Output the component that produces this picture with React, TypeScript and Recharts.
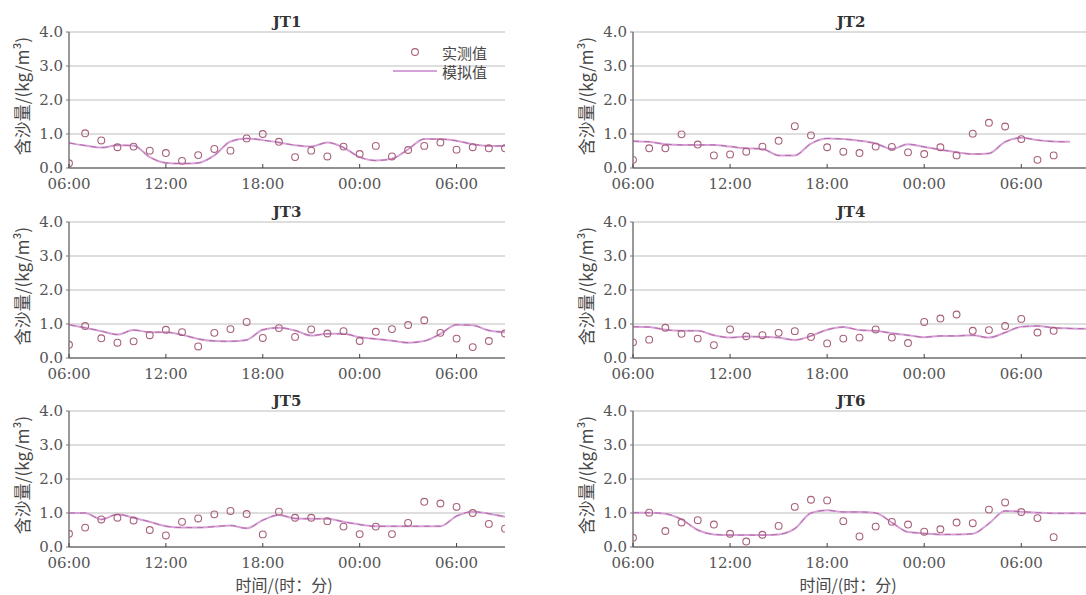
import React from 'react';
import { ComposedChart, Line, XAxis, YAxis, CartesianGrid, Legend } from 'recharts';

// Hour offsets from 06:00 on day one
const HOURS = [0, 1, 2, 3, 4, 5, 6, 7, 8, 9, 10, 11, 12, 13, 14, 15, 16, 17, 18, 19, 20, 21, 22, 23, 24, 25, 26, 27, 28];
const X_TICKS = [0, 6, 12, 18, 24];
const X_TICK_LABELS = ['06:00', '12:00', '18:00', '00:00', '06:00'];
const Y_TICKS = [0, 1, 2, 3, 4];

const STATIONS = ['JT1', 'JT2', 'JT3', 'JT4', 'JT5', 'JT6'];
const OBS_NAME = '实测值';
const SIM_NAME = '模拟值';
const Y_LABEL = '含沙量/(kg/m³)';
const X_LABEL = '时间/(时：分)';

const JT1_OBS = [0.14, 1.02, 0.81, 0.61, 0.63, 0.51, 0.44, 0.21, 0.38, 0.56, 0.51, 0.87, 1.0, 0.77, 0.32, 0.51, 0.34, 0.63, 0.41, 0.65, 0.34, 0.53, 0.65, 0.75, 0.54, 0.61, 0.58, 0.58];
const JT1_SIM = [0.74, 0.66, 0.6, 0.67, 0.66, 0.32, 0.15, 0.13, 0.15, 0.37, 0.78, 0.87, 0.82, 0.75, 0.67, 0.63, 0.75, 0.6, 0.32, 0.22, 0.27, 0.55, 0.85, 0.85, 0.8, 0.7, 0.65, 0.65];

const JT2_OBS = [0.24, 0.58, 0.58, 0.99, 0.69, 0.37, 0.4, 0.48, 0.63, 0.8, 1.23, 0.96, 0.61, 0.48, 0.44, 0.63, 0.62, 0.46, 0.41, 0.61, 0.37, 1.01, 1.33, 1.22, 0.85, 0.24, 0.37];
const JT2_SIM = [0.79, 0.77, 0.7, 0.68, 0.68, 0.68, 0.63, 0.58, 0.56, 0.37, 0.37, 0.72, 0.87, 0.85, 0.8, 0.72, 0.56, 0.7, 0.62, 0.54, 0.46, 0.41, 0.43, 0.77, 0.89, 0.82, 0.78, 0.77];

const JT3_OBS = [0.39, 0.94, 0.58, 0.45, 0.49, 0.67, 0.83, 0.76, 0.34, 0.74, 0.85, 1.06, 0.59, 0.88, 0.62, 0.84, 0.72, 0.79, 0.5, 0.77, 0.85, 0.97, 1.11, 0.74, 0.57, 0.32, 0.5, 0.72];
const JT3_SIM = [0.98, 0.89, 0.79, 0.69, 0.82, 0.76, 0.76, 0.68, 0.56, 0.5, 0.49, 0.53, 0.83, 0.89, 0.81, 0.66, 0.71, 0.71, 0.61, 0.56, 0.51, 0.45, 0.5, 0.71, 0.98, 0.96, 0.81, 0.76];

const JT4_OBS = [0.46, 0.54, 0.89, 0.71, 0.57, 0.38, 0.84, 0.64, 0.67, 0.74, 0.79, 0.62, 0.43, 0.57, 0.6, 0.84, 0.6, 0.44, 1.06, 1.16, 1.28, 0.8, 0.82, 0.94, 1.15, 0.75, 0.8];
const JT4_SIM = [0.92, 0.91, 0.83, 0.8, 0.8, 0.67, 0.6, 0.63, 0.62, 0.6, 0.53, 0.65, 0.83, 0.91, 0.82, 0.8, 0.73, 0.67, 0.61, 0.65, 0.65, 0.67, 0.6, 0.75, 0.92, 0.94, 0.89, 0.87, 0.86];

const JT5_OBS = [0.39, 0.57, 0.81, 0.86, 0.78, 0.5, 0.34, 0.74, 0.84, 0.96, 1.06, 0.97, 0.37, 1.04, 0.86, 0.86, 0.76, 0.6, 0.38, 0.6, 0.38, 0.71, 1.33, 1.28, 1.18, 1.0, 0.68, 0.54];
const JT5_SIM = [1.0, 1.0, 0.81, 0.96, 0.86, 0.74, 0.61, 0.57, 0.57, 0.6, 0.63, 0.55, 0.79, 0.94, 0.84, 0.83, 0.83, 0.74, 0.66, 0.61, 0.61, 0.61, 0.61, 0.61, 0.91, 1.04, 0.98, 0.89];

const JT6_OBS = [0.27, 1.01, 0.47, 0.72, 0.79, 0.66, 0.39, 0.16, 0.36, 0.62, 1.18, 1.39, 1.37, 0.76, 0.31, 0.6, 0.74, 0.66, 0.45, 0.52, 0.72, 0.7, 1.1, 1.31, 1.03, 0.85, 0.29];
const JT6_SIM = [1.01, 1.01, 0.98, 0.81, 0.5, 0.37, 0.35, 0.35, 0.35, 0.37, 0.54, 1.0, 1.08, 1.03, 1.03, 1.0, 0.72, 0.44, 0.4, 0.37, 0.37, 0.39, 0.69, 1.06, 1.04, 1.01, 0.99, 0.99, 0.99];

const OBS_SERIES = [JT1_OBS, JT2_OBS, JT3_OBS, JT4_OBS, JT5_OBS, JT6_OBS];
const SIM_SERIES = [JT1_SIM, JT2_SIM, JT3_SIM, JT4_SIM, JT5_SIM, JT6_SIM];

const OBS_COLOR = '#a8607a';
const SIM_COLOR = '#d6a2d6';
const SIM_DASH_COLOR = '#b46aa8';
const AXIS_COLOR = '#777';
const GRID_COLOR = '#bdbdbd';
const TEXT_COLOR = '#555';
const LABEL_COLOR = '#474747';
const SERIF = '"DejaVu Serif", "Liberation Serif", serif';
const CJK = '"Noto Sans CJK SC", sans-serif';

const CHART_W = 543;
const CHART_H = 204;
const PLOT_TOP = 20;
const X_AXIS_H = 48;
const ROW_PLOT_TOPS = [32, 222, 411];
const PX_PER_HOUR = 16.15;

function buildRows(obs: number[], sim: number[]) {
  const n = Math.max(obs.length, sim.length);
  return HOURS.slice(0, n).map((t, i) => ({
    t,
    obs: i < obs.length ? obs[i] : null,
    sim: i < sim.length ? sim[i] : null,
  }));
}

const ObsDot = (props: any) => {
  const { cx, cy, value, index } = props;
  if (value == null || cx == null || cy == null) return <g key={`o-${index}`} />;
  return <circle key={`o-${index}`} cx={cx} cy={cy} r={3.4} fill="none" stroke={OBS_COLOR} strokeWidth={1.1} />;
};

const XTick = (props: any) => {
  const { x, y, payload } = props;
  const idx = X_TICKS.indexOf(payload.value);
  return (
    <g>
      <line x1={x} x2={x} y1={y} y2={y - 4} stroke="#444" strokeWidth={1} />
      <text x={x} y={y + 21} textAnchor="middle" fontFamily={SERIF} fontSize={15} fill={TEXT_COLOR}>
        {idx >= 0 ? X_TICK_LABELS[idx] : ''}
      </text>
    </g>
  );
};

const LegendBox = () => (
  <svg width={130} height={45} style={{ display: 'block' }}>
    <circle cx={30} cy={12} r={3.4} fill="none" stroke={OBS_COLOR} strokeWidth={1.1} />
    <text x={57} y={12} dominantBaseline="central" fontFamily={CJK} fontSize={15} fill={LABEL_COLOR}>{OBS_NAME}</text>
    <line x1={8} x2={52} y1={31} y2={31} stroke={SIM_COLOR} strokeWidth={2} />
    <text x={57} y={31} dominantBaseline="central" fontFamily={CJK} fontSize={15} fill={LABEL_COLOR}>{SIM_NAME}</text>
  </svg>
);

function Panel({ index }: { index: number }) {
  const col = index % 2;
  const row = Math.floor(index / 2);
  const isRight = col === 1;
  const left = isRight ? 543 : 0;
  const top = ROW_PLOT_TOPS[row] - PLOT_TOP;
  const marginLeft = isRight ? 50 : 29;
  const marginRight = isRight ? 0 : 38;
  const xMax = isRight ? 28 : 27;
  const rows = buildRows(OBS_SERIES[index], SIM_SERIES[index]);
  const plotLeft = marginLeft + 40;
  const titleX = plotLeft + (27 * PX_PER_HOUR) / 2;
  const isBottom = row === 2;

  return (
    <div style={{ position: 'absolute', left, top, width: CHART_W, height: CHART_H }}>
      <div
        style={{
          position: 'absolute',
          left: titleX - 40,
          width: 80,
          top: 1,
          textAlign: 'center',
          fontFamily: SERIF,
          fontWeight: 'bold',
          fontSize: 15,
          color: '#333',
          lineHeight: '18px',
        }}
      >
        {STATIONS[index]}
      </div>
      <ComposedChart
        width={CHART_W}
        height={CHART_H}
        data={rows}
        margin={{ top: PLOT_TOP, right: marginRight, left: marginLeft, bottom: 0 }}
      >
        <CartesianGrid horizontal vertical={false} stroke={GRID_COLOR} strokeWidth={1.2} />
        <XAxis
          type="number"
          dataKey="t"
          domain={[0, xMax]}
          ticks={X_TICKS}
          interval={0}
          height={X_AXIS_H}
          tickSize={0}
          tickMargin={0}
          tickLine={false}
          tick={<XTick />}
          axisLine={{ stroke: AXIS_COLOR, strokeWidth: 1.5 }}
          allowDataOverflow
          label={
            isBottom
              ? (p: any) => {
                  const vb = p.viewBox || {};
                  return (
                    <text x={vb.x + (27 * PX_PER_HOUR) / 2 - 3} y={vb.y + 44} textAnchor="middle" fontFamily={CJK} fontSize={16} fill={LABEL_COLOR}>
                      {X_LABEL}
                    </text>
                  );
                }
              : undefined
          }
        />
        <YAxis
          type="number"
          domain={[0, 4]}
          ticks={Y_TICKS}
          width={40}
          tickSize={3}
          tickMargin={3}
          tickLine={{ stroke: AXIS_COLOR }}
          axisLine={{ stroke: AXIS_COLOR, strokeWidth: 1.5 }}
          tickFormatter={(v: number) => v.toFixed(1)}
          tick={{ fontFamily: SERIF, fontSize: 15, fill: TEXT_COLOR }}
          label={(p: any) => {
            const vb = p.viewBox || {};
            const cx = vb.x + vb.width - 48;
            const cy = vb.y + vb.height / 2 - 4;
            return (
              <text
                x={cx}
                y={cy}
                transform={`rotate(-90 ${cx} ${cy})`}
                textAnchor="middle"
                dominantBaseline="central"
                fontFamily={CJK}
                fontSize={17}
                fill={LABEL_COLOR}
              >
                {Y_LABEL}
              </text>
            );
          }}
        />
        {index === 0 && (
          <Legend
            layout="vertical"
            align="center"
            verticalAlign="middle"
            content={() => <LegendBox />}
            wrapperStyle={{ position: 'absolute', left: 385, top: 40 - top, width: 130, height: 45 }}
          />
        )}
        <Line
          type="monotone"
          dataKey="sim"
          name={SIM_NAME}
          stroke={SIM_COLOR}
          strokeWidth={2}
          dot={false}
          activeDot={false}
          connectNulls={false}
          isAnimationActive={false}
        />
        <Line
          type="monotone"
          dataKey="sim"
          name={SIM_NAME + '-dash'}
          stroke={SIM_DASH_COLOR}
          strokeWidth={1}
          strokeDasharray="6 5"
          dot={false}
          activeDot={false}
          legendType="none"
          isAnimationActive={false}
        />
        <Line
          dataKey="obs"
          name={OBS_NAME}
          stroke="none"
          dot={ObsDot}
          activeDot={false}
          isAnimationActive={false}
        />
      </ComposedChart>
    </div>
  );
}

export default function App() {
  return (
    <div
      style={{
        position: 'fixed',
        left: 0,
        top: 0,
        width: 1086,
        height: 595,
        overflow: 'hidden',
        background: '#fff',
      }}
    >
      {STATIONS.map((s, i) => (
        <Panel key={s} index={i} />
      ))}
    </div>
  );
}
